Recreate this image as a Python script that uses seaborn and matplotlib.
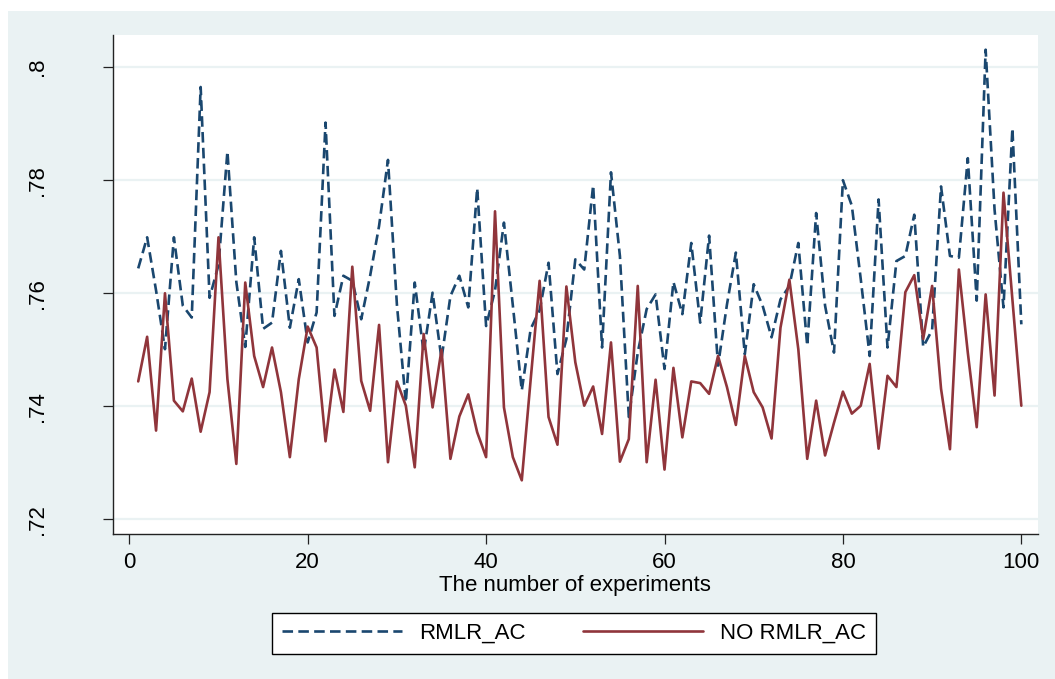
import numpy as np
import pandas as pd
import seaborn as sns
import matplotlib.pyplot as plt
from matplotlib.patches import Rectangle

# stata s2color-ish colours
navy = '#1A476F'
maroon = '#90353B'
bg = '#EAF2F3'

experiments = list(range(1, 101))

rmlr_ac = [
    0.7644, 0.7699, 0.7605, 0.7501, 0.7699, 0.7578, 0.7557, 0.7965, 0.7592, 0.7650,
    0.7851, 0.7620, 0.7505, 0.7699, 0.7537, 0.7548, 0.7675, 0.7539, 0.7625, 0.7513,
    0.7566, 0.7902, 0.7560, 0.7631, 0.7622, 0.7554, 0.7631, 0.7719, 0.7836, 0.7580,
    0.7407, 0.7619, 0.7495, 0.7601, 0.7484, 0.7595, 0.7631, 0.7575, 0.7786, 0.7542,
    0.7605, 0.7725, 0.7578, 0.7428, 0.7537, 0.7570, 0.7654, 0.7457, 0.7519, 0.7660,
    0.7642, 0.7791, 0.7504, 0.7814, 0.7666, 0.7381, 0.7495, 0.7572, 0.7598, 0.7466,
    0.7620, 0.7563, 0.7689, 0.7548, 0.7702, 0.7472, 0.7580, 0.7672, 0.7492, 0.7616,
    0.7578, 0.7522, 0.7589, 0.7613, 0.7689, 0.7507, 0.7742, 0.7578, 0.7495, 0.7800,
    0.7755, 0.7625, 0.7489, 0.7766, 0.7504, 0.7657, 0.7666, 0.7739, 0.7505, 0.7535,
    0.7789, 0.7666, 0.7663, 0.7839, 0.7587, 0.8031, 0.7748, 0.7575, 0.7892, 0.7545,
]

no_rmlr_ac = [
    0.7444, 0.7523, 0.7357, 0.7600, 0.7410, 0.7391, 0.7449, 0.7355, 0.7425, 0.7699,
    0.7448, 0.7298, 0.7619, 0.7489, 0.7434, 0.7504, 0.7425, 0.7310, 0.7448, 0.7541,
    0.7504, 0.7338, 0.7465, 0.7390, 0.7647, 0.7445, 0.7392, 0.7544, 0.7301, 0.7444,
    0.7401, 0.7292, 0.7528, 0.7398, 0.7500, 0.7307, 0.7382, 0.7421, 0.7354, 0.7310,
    0.7745, 0.7398, 0.7310, 0.7269, 0.7448, 0.7622, 0.7381, 0.7332, 0.7612, 0.7478,
    0.7401, 0.7435, 0.7351, 0.7513, 0.7302, 0.7342, 0.7613, 0.7301, 0.7447, 0.7288,
    0.7468, 0.7345, 0.7444, 0.7441, 0.7422, 0.7489, 0.7434, 0.7367, 0.7489, 0.7425,
    0.7398, 0.7343, 0.7539, 0.7624, 0.7501, 0.7307, 0.7410, 0.7313, 0.7371, 0.7426,
    0.7387, 0.7401, 0.7475, 0.7325, 0.7454, 0.7434, 0.7602, 0.7632, 0.7519, 0.7613,
    0.7431, 0.7324, 0.7642, 0.7495, 0.7363, 0.7598, 0.7419, 0.7778, 0.7589, 0.7401,
]

y_ticks = [0.72, 0.74, 0.76, 0.78, 0.80]
y_tick_labels = ['.72', '.74', '.76', '.78', '.8']
x_ticks = [0, 20, 40, 60, 80, 100]

sns.set_theme(style='white')
plt.rcParams['font.family'] = ['Liberation Sans', 'DejaVu Sans']
plt.rcParams['text.color'] = 'black'
plt.rcParams['axes.labelcolor'] = 'black'

df = pd.DataFrame({
    'experiment': experiments * 2,
    'value': rmlr_ac + no_rmlr_ac,
    'series': ['RMLR_AC'] * 100 + ['NO RMLR_AC'] * 100,
})

fig = plt.figure(figsize=(10.55, 6.79), dpi=100, facecolor='white')
# light blue graph region, inset a little from the top-left like the original export
fig.patches.append(Rectangle((8 / 1055, 0), 1 - 8 / 1055, 1 - 11 / 679,
                             transform=fig.transFigure, facecolor=bg,
                             edgecolor='none', zorder=-10))

ax = fig.add_axes([112.7 / 1055, 1 - 534 / 679, (1038 - 112.7) / 1055, (534 - 35) / 679])
ax.set_zorder(1)
ax.set_facecolor('white')

sns.lineplot(
    data=df, x='experiment', y='value', hue='series', style='series',
    palette={'RMLR_AC': navy, 'NO RMLR_AC': maroon},
    dashes={'RMLR_AC': (4, 2), 'NO RMLR_AC': ''},
    linewidth=1.9, legend=False, ax=ax,
)

ax.set_xlim(-1.86, 101.87)
ax.set_ylim(0.7174, 0.8057)
ax.set_yticks(y_ticks)
ax.set_yticklabels(y_tick_labels, rotation=90, va='center')
ax.set_xticks(x_ticks)
ax.yaxis.grid(True, color=bg, linewidth=1.6)
ax.set_axisbelow(True)

for side in ['top', 'right']:
    ax.spines[side].set_visible(False)
for side in ['left', 'bottom']:
    ax.spines[side].set_color('#222222')
    ax.spines[side].set_linewidth(1.0)

ax.tick_params(axis='x', length=7.2, width=0.9, pad=6, labelsize=16, colors='#222222', labelcolor='black')
ax.tick_params(axis='y', length=7.2, width=0.9, pad=39.5, labelsize=16, colors='#222222', labelcolor='black')
ax.tick_params(bottom=True, left=True)

ax.set_xlabel('The number of experiments', fontsize=16, labelpad=1)
ax.set_ylabel('')

lines = ax.get_lines()
leg = fig.legend(
    lines[:2], ['RMLR_AC', 'NO RMLR_AC'],
    loc='center', bbox_to_anchor=(0.544, 0.067), ncol=2,
    fontsize=16, frameon=True, fancybox=False, framealpha=1,
    edgecolor='black', facecolor='white', labelcolor='black',
    handlelength=5.4, handletextpad=0.75, columnspacing=2.6,
    borderpad=0.45, borderaxespad=0,
)
leg.get_frame().set_linewidth(1.0)

fig.savefig('out.png', dpi=100, facecolor=fig.get_facecolor())
